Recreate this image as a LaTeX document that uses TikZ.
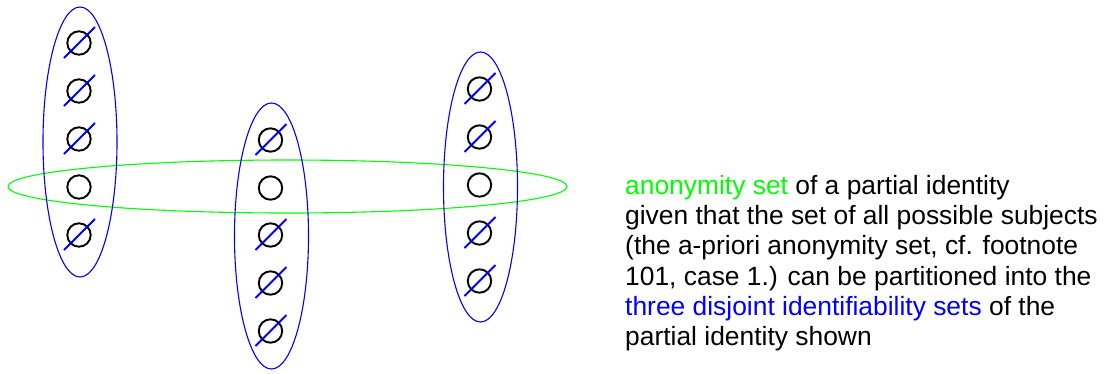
\documentclass[tikz,border=0pt]{standalone}
\usepackage{fontspec}
\setmainfont{Liberation Sans}
\definecolor{anongreen}{RGB}{0,255,0}
\definecolor{idblue}{RGB}{0,0,255}
\begin{document}
\begin{tikzpicture}[x=1pt,y=-1pt,
  circ/.style={circle,draw=black,line width=1.9pt,minimum size=23.4pt,inner sep=0pt},
  slash/.style={draw=idblue,line width=1.8pt},
  idset/.style={draw=idblue,line width=1.1pt},
  anonset/.style={draw=anongreen,line width=1.1pt},
  txt/.style={anchor=base west,inner sep=0pt,font=\fontsize{26.4}{30}\selectfont}]
\useasboundingbox (0,0) rectangle (1107,373);
% ellipses
\draw[anonset] (287.5,186.5) ellipse [x radius=279.5pt, y radius=26.5pt];
\draw[idset] (80,142) ellipse [x radius=37pt, y radius=135pt];
\draw[idset] (271.5,236) ellipse [x radius=37pt, y radius=133pt];
\draw[idset] (480.5,187) ellipse [x radius=37pt, y radius=135pt];
% left column
\node[circ] (l1) at (79,43) {};
\node[circ] (l2) at (79,91) {};
\node[circ] (l3) at (79,139) {};
\node[circ] (l4) at (79,187) {};
\node[circ] (l5) at (79,235) {};
% middle column
\node[circ] (m1) at (270.5,140) {};
\node[circ] (m2) at (270.5,188) {};
\node[circ] (m3) at (270.5,235) {};
\node[circ] (m4) at (270.5,283) {};
\node[circ] (m5) at (270.5,331) {};
% right column
\node[circ] (r1) at (479.5,89) {};
\node[circ] (r2) at (479.5,137) {};
\node[circ] (r3) at (479.5,185) {};
\node[circ] (r4) at (479.5,233) {};
\node[circ] (r5) at (479.5,281) {};
% slashes
\foreach \n in {l1,l2,l3,l5,m1,m3,m4,m5,r1,r2,r4,r5}
  \draw[slash] ([shift={(-15,15)}]\n.center) -- ([shift={(16,-16)}]\n.center);
% text
\node[txt] (t1) at (625,194) {\textcolor{anongreen}{anonymity set} of a partial identity};
\node[txt] (t2) at (625,224) {given that the set of all possible subjects};
\node[txt] (t3) at (625,254.5) {(the a-priori anonymity set, cf. footnote};
\node[txt] (t4) at (625,285) {101, case 1.) can be partitioned into the};
\node[txt] (t5) at (625,315) {\textcolor{idblue}{three disjoint identifiability sets} of the};
\node[txt] (t6) at (625,345) {partial identity shown};
\end{tikzpicture}
\end{document}
